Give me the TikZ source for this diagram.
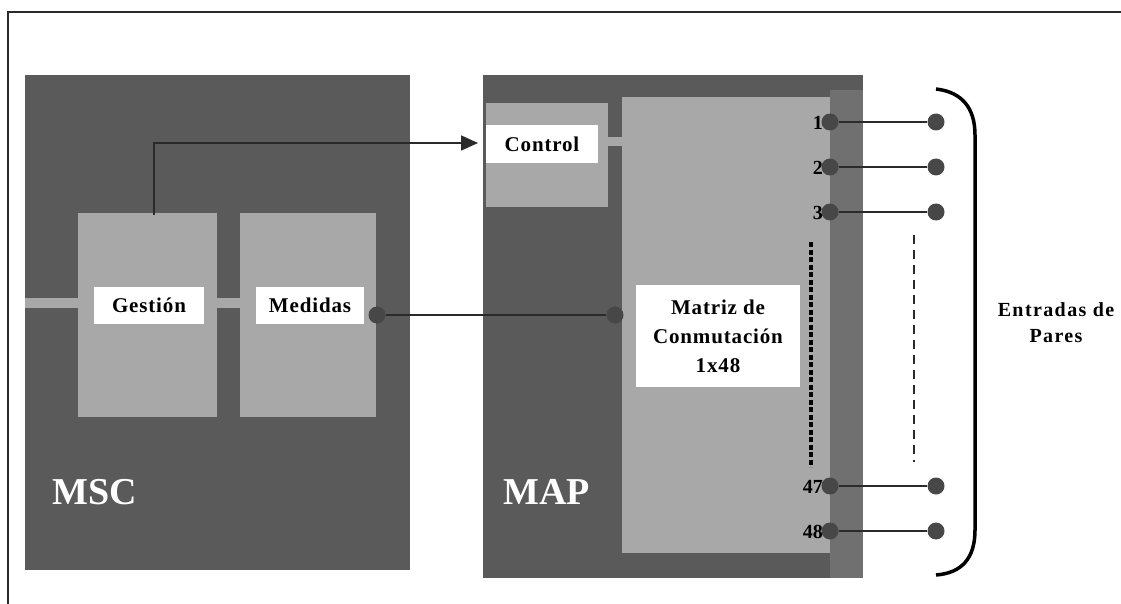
\documentclass[tikz,border=0pt]{standalone}
\usepackage{fontspec}
\setmainfont{Liberation Serif}
\usetikzlibrary{fit,arrows.meta}
\definecolor{darkbg}{HTML}{5A5A5A}
\definecolor{strip}{HTML}{707070}
\definecolor{lightbg}{HTML}{A8A8A8}
\definecolor{dotc}{HTML}{474747}
\definecolor{linec}{HTML}{2A2A2A}
\tikzset{
  dark/.style={fill=darkbg, draw=none, inner sep=0pt},
  light/.style={fill=lightbg, draw=none, inner sep=0pt},
  labelbox/.style={fill=white, draw=none, inner sep=0pt, font=\fontsize{21}{29}\selectfont\bfseries\addfontfeature{LetterSpace=4}, align=center, text=black},
  bigtitle/.style={font=\fontsize{38}{40}\selectfont\bfseries, text=white, anchor=base west, inner sep=0pt},
  port/.style={circle, fill=dotc, inner sep=0pt, minimum size=17pt},
  portlab/.style={font=\fontsize{20}{22}\selectfont\bfseries, anchor=east, inner sep=0pt},
  conn/.style={draw=linec, line width=1.8pt},
}
\begin{document}
\begin{tikzpicture}[x=1pt,y=-1pt]
\useasboundingbox (0,0) rectangle (1121,604);
\fill[white] (0,0) rectangle (1121,604);
% frame
\draw[linec, line width=1.6pt] (8,604) -- (8,12) -- (1121,12);
% MSC
\node[dark, fit={(25,75) (410,570)}] (msc) {};
\node[light, fit={(25,298) (78,308)}] (barl) {};
\node[light, fit={(217,298) (240,308)}] (barm) {};
\node[light, fit={(78,213) (217,417)}] (gestion) {};
\node[light, fit={(240,213) (376,417)}] (medidas) {};
\node[labelbox, fit={(94,287) (204,324)}] (glab) {};
\node[labelbox] at (glab.center) {Gestión};
\node[labelbox, fit={(256,287) (364,324)}] (mlab) {};
\node[labelbox] at (mlab.center) {Medidas};
\node[bigtitle] (msct) at (52,504) {MSC};
% MAP
\node[dark, fit={(483,75) (863,578)}] (map) {};
\node[fill=strip, inner sep=0pt, fit={(830,90) (863,578)}] (mapstrip) {};
\node[light, fit={(486,103) (608,207)}] (control) {};
\node[light, fit={(598,137) (622,146)}] (barc) {};
\node[light, fit={(622,97) (830,553)}] (matrix) {};
\node[labelbox, fit={(486,125) (598,163)}] (clab) {};
\node[labelbox] at (clab.center) {Control};
\node[labelbox, fit={(636,285) (800,387)}] (xlab) {};
\node[labelbox] at (xlab.center) {Matriz de\\Conmutación\\1x48};
\node[bigtitle] (mapt) at (503,504) {MAP};
% arrow Gestion -> Control
\coordinate (atip) at (478,143);
\draw[conn, -{Triangle[length=17pt,width=15pt]}] (154,215) coordinate (astart) |- (atip);
% Medidas -> Matriz
\node[port] (md) at (377,315) {};
\node[port] (xd) at (615,315) {};
\draw[conn] (md) -- (xd);
% ports
\foreach \n/\y in {1/122,2/167,3/212,47/486,48/531}{
  \node[port] (p\n) at (830,\y) {};
  \node[port] (q\n) at (936,\y) {};
  \node[portlab] (l\n) at (823,\y+1) {\n};
  \draw[conn] (p\n) -- (q\n);
}
% dashed lines
\draw[black, line width=3.5pt, dash pattern=on 5pt off 2.5pt] (811,242) -- (811,467);
\draw[linec, line width=1.8pt, dash pattern=on 9pt off 6pt] (914,235) -- (914,462);
% bracket
\draw[black, line width=3.5pt] (936,89) .. controls (962,92) and (975,108) .. (975,135) -- (975,530) .. controls (975,558) and (962,573) .. (936,575);
% text
\node[font=\fontsize{20}{26}\selectfont\bfseries\addfontfeature{LetterSpace=7}, align=center, inner sep=0pt] (ent) at (1056,323) {Entradas de\\Pares};
\end{tikzpicture}
\end{document}
